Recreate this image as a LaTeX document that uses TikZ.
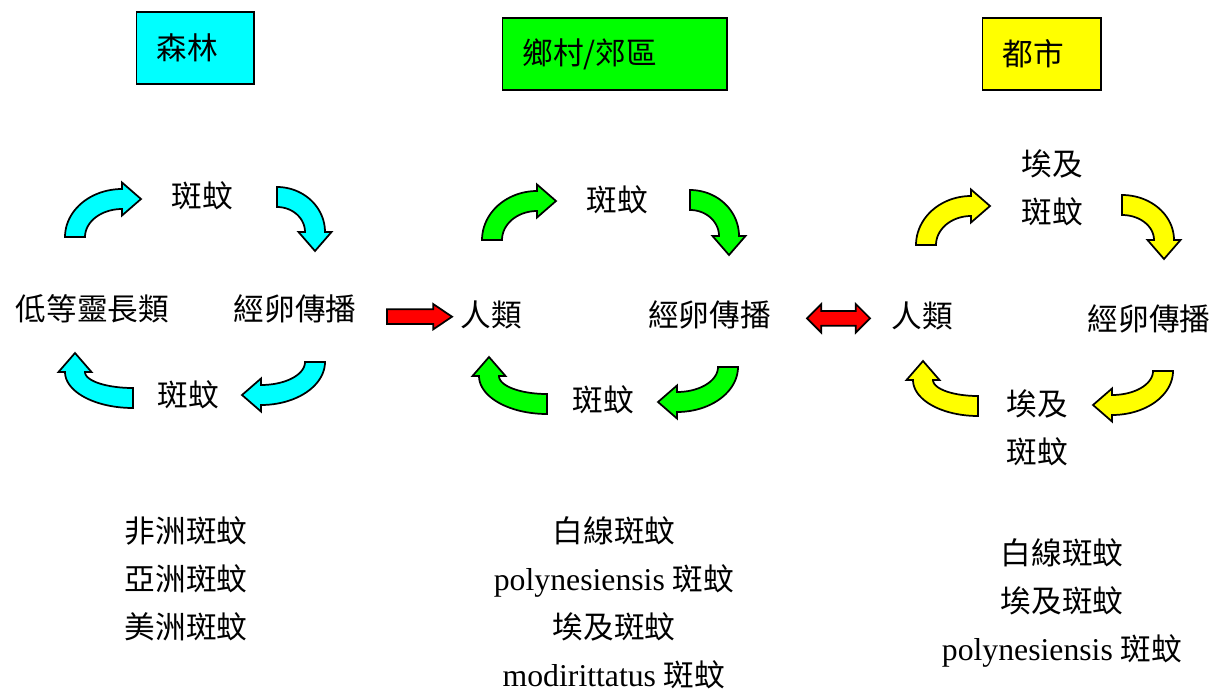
\documentclass[tikz,border=0pt]{standalone}
\usepackage{fontspec}
\setmainfont{Liberation Serif}
\newfontfamily\cjk{Noto Sans CJK TC}
\usetikzlibrary{shapes.arrows}
\definecolor{aqua}{RGB}{0,255,255}
\definecolor{lime}{RGB}{0,255,0}
\definecolor{yel}{RGB}{255,255,0}
\definecolor{rd}{RGB}{255,0,0}
\newcommand{\lat}[1]{{\rmfamily\fontsize{23.8}{36}\selectfont #1 }}
\tikzset{
  lbl/.style={font=\cjk\fontsize{23}{36}\selectfont, inner sep=0pt, align=center},
  catbox/.style={draw, line width=1.2pt, font=\cjk\fontsize{23}{27}\selectfont, anchor=west,
    inner xsep=15pt, inner ysep=0pt, align=left, minimum height=54.2pt},
  curvedarrow/.style={draw, line width=1.3pt, line join=miter},
  redarrow/.style={draw, line width=1.3pt, fill=rd, inner xsep=0pt, outer sep=0pt}
}
\def\cabw{10}
\def\cahw{16.5}
\def\cahl{19}
\newcommand{\curvarr}[7]{%
  \pgfmathsetmacro{\caS}{sign((#7)-(#6))}%
  \pgfmathsetmacro{\caDX}{-(#4)*sin(#7)}%
  \pgfmathsetmacro{\caDY}{(#5)*cos(#7)}%
  \pgfmathsetmacro{\caN}{sqrt((\caDX)*(\caDX)+(\caDY)*(\caDY))}%
  \pgfmathsetmacro{\caTX}{(#2)+(#4)*cos(#7)+(\caS)*\cahl*(\caDX)/\caN}%
  \pgfmathsetmacro{\caTY}{(#3)+(#5)*sin(#7)+(\caS)*\cahl*(\caDY)/\caN}%
  \draw[curvedarrow, fill=#1]
    plot[domain=#6:#7, samples=25, smooth] ({(#2)+((#4)+\cabw)*cos(\x)}, {(#3)+((#5)+\cabw)*sin(\x)})
    -- ({(#2)+((#4)+\cahw)*cos(#7)}, {(#3)+((#5)+\cahw)*sin(#7)})
    -- (\caTX, \caTY)
    -- ({(#2)+((#4)-\cahw)*cos(#7)}, {(#3)+((#5)-\cahw)*sin(#7)})
    -- plot[domain=#7:#6, samples=25, smooth] ({(#2)+((#4)-\cabw)*cos(\x)}, {(#3)+((#5)-\cabw)*sin(\x)})
    -- cycle;
}
\begin{document}
\begin{tikzpicture}[x=0.75pt, y=-0.75pt]
\useasboundingbox (0,0) rectangle (1226,693);

% category boxes
\node[catbox, fill=aqua, text width=58.2pt] (forest) at (135.7,47.9) {森林};
\node[catbox, fill=lime, text width=138.2pt] (rural) at (501.7,53.9) {鄉村/郊區};
\node[catbox, fill=yel, text width=58.7pt] (urban) at (981.7,53.9) {都市};

% left cycle
\node[lbl] (lt) at (202.5,195.5) {斑蚊};
\node[lbl] (ll) at (92.5,308.5) {低等靈長類};
\node[lbl] (lr) at (295,308.5) {經卵傳播};
\node[lbl] (lb) at (188,394.5) {斑蚊};
\curvarr{aqua}{122}{237}{47}{38}{180}{270}
\curvarr{aqua}{277}{232}{38}{35}{270}{360}
\curvarr{aqua}{261}{362}{54}{33}{0}{90}
\curvarr{aqua}{133}{372}{58}{26}{90}{180}

% middle cycle
\node[lbl] (mt) at (617,199.5) {斑蚊};
\node[lbl] (ml) at (491,314.5) {人類};
\node[lbl] (mr) at (709.5,314.5) {經卵傳播};
\node[lbl] (mb) at (603,399.5) {斑蚊};
\curvarr{lime}{537}{240}{45}{39}{180}{270}
\curvarr{lime}{690}{236}{39}{36}{270}{360}
\curvarr{lime}{677}{367}{51}{35}{0}{90}
\curvarr{lime}{547}{376}{58}{28}{90}{180}

% right cycle
\node[lbl] (rt) at (1052.5,188) {埃及\\斑蚊};
\node[lbl] (rl) at (922.5,315.5) {人類};
\node[lbl] (rr) at (1149,318.5) {經卵傳播};
\node[lbl] (rb) at (1037,427.5) {埃及\\斑蚊};
\curvarr{yel}{971}{245}{45}{39}{180}{270}
\curvarr{yel}{1122}{240}{42}{35}{270}{360}
\curvarr{yel}{1112}{371}{51}{34}{0}{90}
\curvarr{yel}{978}{380}{55}{26}{90}{180}

% red arrows between cycles
\node[redarrow, single arrow, inner ysep=4.9pt, minimum height=48.8pt,
  single arrow head extend=3.9pt, single arrow tip angle=68] (a1) at (414,316.7) {};
\node[redarrow, double arrow, inner ysep=4.9pt, minimum height=47.3pt,
  double arrow head extend=5.1pt] (a2) at (838.5,318.3) {};

% species lists
\node[lbl] (listl) at (186,578.5) {非洲斑蚊\\亞洲斑蚊\\美洲斑蚊};
\node[lbl] (listm) at (614,603) {白線斑蚊\\\lat{polynesiensis}斑蚊\\埃及斑蚊\\\lat{modirittatus}斑蚊};
\node[lbl] (listr) at (1062,602.5) {白線斑蚊\\埃及斑蚊\\\lat{polynesiensis}斑蚊};
\end{tikzpicture}
\end{document}
